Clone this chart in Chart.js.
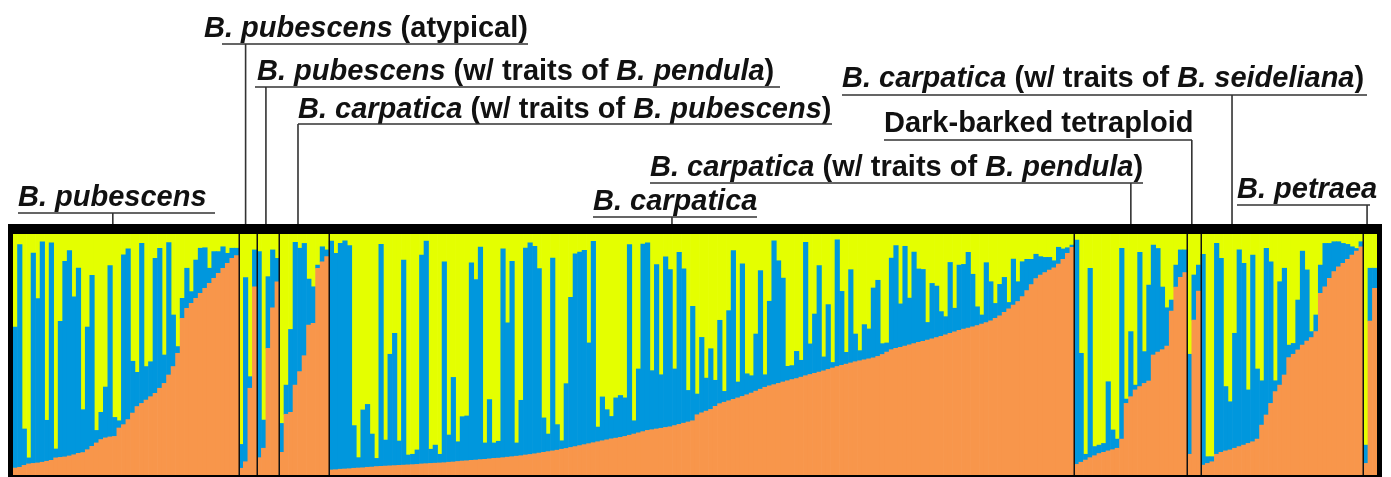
<!DOCTYPE html>
<html>
<head>
<meta charset="utf-8">
<script src="https://cdn.jsdelivr.net/npm/chart.js@4/dist/chart.umd.min.js"></script>
<style>
  html, body { margin: 0; padding: 0; background: #fff; }
</style>
</head>
<body>
<canvas id="myChart" width="1391" height="477"></canvas>
<script>
// groups, left to right
const groupNames = ['B. pubescens', 'B. pubescens (atypical)', 'B. pubescens (w/ traits of B. pendula)',
  'B. carpatica (w/ traits of B. pubescens)', 'B. carpatica', 'B. carpatica (w/ traits of B. pendula)',
  'Dark-barked tetraploid', 'B. carpatica (w/ traits of B. seideliana)', 'B. petraea']

// per individual: orange share (%) and orange+blue share (%), rest is yellow
const pubOrange = [2.9,3.2,4.0,4.6,4.8,5.0,5.3,5.7,6.1,7.1, 7.3,7.5,7.9,8.4,9.0,9.3,10.5,11.9,13.3,14.7,
  15.4,15.8,16.0,19.5,20.9,23.0,25.7,28.4,29.7,31.1, 32.5,33.9,36.0,38.0,41.5,45.0,50.5,65.0,69.2,71.2,
  73.3,75.4,77.5,79.5,81.6,83.7,85.8,87.8,89.9,91.0]
const pubTop = [61.4,95.6,19.1,7.1,92.1,73.2,96.7,22.7,96.3,10.8, 63.8,88.7,93.1,73.9,85.9,27.1,61.4,82.8,18.5,26.0,
  36.5,86.9,23.9,22.5,91.4,93.8,47.2,42.6,96.1,45.0, 47.0,89.9,94.1,49.8,96.4,66.4,53.3,73.3,85.8,76.1,
  89.2,94.1,94.3,85.8,92.7,92.7,94.7,92.0,94.1,94.1]

const atyOrange = [2.8,5.5,36.0,78.1]
const atyTop = [12.7,81.9,40.8,93.4]

const penOrange = [7.2,11.1,52.6,69.4,80.2]
const penTop = [92.7,22.8,82.3,93.4,89.9]

const carPubOrange = [9.4,25.2,26.0,37.3,42.9,49.5,62.2,62.9,85.8,88.5,90.6]
const carPubTop = [21.4,37.3,60.4,96.5,94.1,96.1,81.3,78.1,87.1,94.7,93.4]

const carOrange = [2.1,2.2,2.4,2.5,2.6,2.8,2.9,3.0,3.2,3.3,
  3.5,3.6,3.7,3.8,3.9,4.0,4.1,4.2,4.3,4.4,
  4.6,4.7,4.8,4.9,5.0,5.1,5.3,5.4,5.6,5.8,5.9,6.1,
  6.2,6.4,6.5,6.7,6.9,7.0,7.2,7.4,7.6,
  7.8,8.0,8.3,8.5,8.8,9.1,9.4,9.7,10.0,10.3,
  10.7,11.0,11.4,11.8,12.2,12.6,13.0,13.4,13.8,14.2,
  14.6,15.0,15.3,15.6,16.0,16.5,17.0,17.5,18.0,18.5,
  18.8,19.1,19.4,19.7,20.0,20.5,21.0,21.5,22.0,22.5,
  25.0,25.8,26.5,27.2,28.5,29.6,30.2,30.8,31.4,32.0,
  32.6,33.3,34.0,34.8,35.6,36.4,37.0,37.5,38.0,38.6,
  39.1,39.6,40.0,40.6,41.2,41.7,42.2,42.7,43.2,43.8,
  44.4,45.0,45.5,46.0,46.5,47.0,47.4,47.8,48.2,48.6,
  49.2,50.0,51.0,52.0,52.6,53.0,53.5,54.0,54.5,55.0,
  55.5,56.0,56.5,57.0,57.5,58.2,58.8,59.4,60.0,60.5,
  61.0,61.5,62.0,62.6,63.2,64.0,65.0,66.0,67.5,69.0,
  70.5,72.0,74.0,76.5,79.0,81.5,83.0,84.0,85.0,86.0,
  87.5,89.5,92.0,94.5]
const carTop = [97.1,92.0,96.1,97.2,95.2,20.5,7.2,27.0,29.3,17.0,
  6.9,95.7,14.5,50.1,58.8,14.1,89.2,8.3,8.6,10.4,
  91.3,97.1,10.7,12.4,8.6,88.5,16.6,40.5,13.8,24.2,24.5,
  88.0,81.1,94.6,13.3,31.3,13.3,14.0,93.8,63.1,88.7,
  13.3,31.0,94.2,96.3,94.9,85.6,23.7,17.0,90.0,20.9,
  14.2,37.9,73.7,91.8,92.5,93.2,54.8,97.0,19.9,32.4,
  27.1,24.3,32.0,33.0,
  32.0,95.6,22.5,44.0,95.8,96.3,43.3,87.3,41.6,90.5,
  85.2,44.0,92.4,85.5,35.1,70.0,33.6,57.1,40.2,52.4,
  39.3,64.2,34.7,68.2,93.1,38.6,87.6,42.0,41.2,58.5,
  84.8,41.6,72.1,
  97.2,88.9,81.7,45.1,45.4,51.3,47.6,96.5,54.4,66.8,
  86.9,49.0,70.7,46.7,97.6,76.2,50.9,85.2,58.5,51.6,
  62.4,60.6,77.6,80.8,54.5,54.8,90.0,95.2,71.0,94.9,
  73.4,92.5,85.5,
  85.3,63.3,79.5,78.4,67.8,65.7,88.2,69.2,87.1,87.4,
  92.4,83.3,69.8,66.4,88.1,80.2,71.2,79.1,82.0,71.6,
  89.6,80.2,88.5,89.5,89.5,91.6,90.6,90.3,90.3,88.9,
  94.5,93.8,94.3,95.4]

const carPenOrange = [4.4,5.3,6.2,7.2,8.0,8.9,9.4,10.0,10.5,11.1,14.9,29.7,32.5,35.3,36.7,38.0,39.0,49.8,51.0,52.0,53.5,68.0,78.0,82.0,84.0]
const carPenTop = [97.5,50.5,8.6,85.8,11.8,12.4,13.1,38.7,18.7,14.9,94.1,31.5,59.5,37.3,92.4,51.2,78.8,95.4,94.0,78.0,69.4,72.6,87.1,93.4,93.4]

const darkOrange = [8.6,64.3,76.3]
const darkTop = [50.1,83.0,87.1]

const seiOrange = [4.1,4.8,5.5,8.6,9.4,10.0,10.4,11.1,11.8,12.4, 13.1,13.8,14.9,20.7,24.9,29.7,34.6,37.3,41.5,48.7,
  50.1,51.9,53.9,55.6,57.0,59.5,75.4,78.1,81.6,84.4, 86.4,87.8,89.5,91.3,92.9,94.7]
const seiTop = [91.6,7.6,7.6,96.1,89.9,36.7,30.4,58.8,93.4,87.8, 35.3,91.3,44.0,39.1,94.1,88.5,39.1,80.2,85.8,53.9,
  54.6,72.6,92.9,85.1,59.5,66.4,87.1,96.1,96.1,96.8, 96.8,96.1,95.7,94.7,94.0,96.8]

const petOrange = [4.8,63.9,77.5]
const petTop = [12.4,85.8,85.8]

const orangeByGroup = [pubOrange, atyOrange, penOrange, carPubOrange, carOrange, carPenOrange, darkOrange, seiOrange, petOrange]
const topByGroup = [pubTop, atyTop, penTop, carPubTop, carTop, carPenTop, darkTop, seiTop, petTop]

// labels above the plot: text pieces [text, italic], baseline, underline, anchor (individual index)
const notes = [
  { parts: [['B. pubescens', 1]], x: 18, y: 206, ux: [18, 215], uy: 213, at: 21.6 },
  { parts: [['B. pubescens', 1], [' (atypical)', 0]], x: 204, y: 37, ux: [222, 528], uy: 44, at: 51.0 },
  { parts: [['B. pubescens', 1], [' (w/ traits of ', 0], ['B. pendula', 1], [')', 0]], x: 257, y: 80, ux: [255, 780], uy: 87, at: 55.5 },
  { parts: [['B. carpatica', 1], [' (w/ traits of ', 0], ['B. pubescens', 1], [')', 0]], x: 298, y: 118, ux: [298, 832], uy: 124, at: 62.6 },
  { parts: [['B. carpatica', 1], [' (w/ traits of ', 0], ['B. seideliana', 1], [')', 0]], x: 842, y: 87, ux: [842, 1367], uy: 95, at: 269.4 },
  { parts: [['Dark-barked tetraploid', 0]], x: 884, y: 132, ux: [884, 1192], uy: 140, at: 260.5 },
  { parts: [['B. carpatica', 1], [' (w/ traits of ', 0], ['B. pendula', 1], [')', 0]], x: 650, y: 176, ux: [650, 1143], uy: 183, at: 247.0 },
  { parts: [['B. carpatica', 1]], x: 593, y: 210, ux: [593, 757], uy: 217, at: 145.4 },
  { parts: [['B. petraea', 1]], x: 1237, y: 198, ux: [1237, 1370], uy: 205, at: 299.3 }
]

let labels = [], orange = [], blue = [], yellow = [], bounds = []
orangeByGroup.forEach((grp, g) => {
  grp.forEach((o, n) => {
    let top = topByGroup[g][n]
    labels.push(groupNames[g] + ' ' + (n + 1))
    orange.push(o)
    blue.push(Math.max(0, top - o))
    yellow.push(100 - Math.max(top, o))
  })
  bounds.push(labels.length)
})
bounds.pop()

const frame = {
  id: 'frame',
  afterDraw(chart) {
    const c = chart.ctx, a = chart.chartArea, xs = chart.scales.x
    c.save()
    // group separators
    c.strokeStyle = '#111'
    c.lineWidth = 1.5
    bounds.forEach(b => {
      let x = Math.round(xs.getPixelForValue(b - 0.5)) + 0.25
      c.beginPath(); c.moveTo(x, a.top); c.lineTo(x, a.bottom); c.stroke()
    })
    // box
    c.fillStyle = '#000'
    c.fillRect(a.left - 5, a.top - 10, 5, a.bottom - a.top + 13)
    c.fillRect(a.left - 5, a.top - 10, a.right - a.left + 10, 10)
    c.fillRect(a.right, a.top - 10, 5, a.bottom - a.top + 13)
    c.fillRect(a.left - 5, a.bottom, a.right - a.left + 10, 3)
    // labels
    c.fillStyle = '#111'
    c.strokeStyle = '#333'
    c.lineWidth = 1.6
    c.textBaseline = 'alphabetic'
    notes.forEach(n => {
      let x = n.x
      n.parts.forEach(([t, it]) => {
        c.font = (it ? 'italic ' : '') + 'bold 29px "Liberation Sans", Arial, sans-serif'
        c.fillText(t, x, n.y)
        x += c.measureText(t).width
      })
      let lx = xs.getPixelForValue(n.at)
      c.beginPath()
      c.moveTo(n.ux[0], n.uy); c.lineTo(n.ux[1], n.uy)
      c.moveTo(lx, n.uy); c.lineTo(lx, a.top - 10)
      c.stroke()
    })
    c.restore()
  }
}

let ctx = document.getElementById('myChart')
let myChart = new Chart(ctx, {
  type: 'bar',
  data: {
    labels: labels,
    datasets: [
      { label: 'K1', data: orange, backgroundColor: '#F8964B' },
      { label: 'K2', data: blue, backgroundColor: '#0097DD' },
      { label: 'K3', data: yellow, backgroundColor: '#E4FF00' }
    ]
  },
  options: {
    responsive: false,
    animation: false,
    devicePixelRatio: 1,
    layout: { padding: { left: 13, right: 14, top: 234, bottom: 2 } },
    datasets: { bar: { barPercentage: 1, categoryPercentage: 1, borderWidth: 0 } },
    scales: {
      x: { stacked: true, display: false },
      y: { stacked: true, display: false, min: 0, max: 100 }
    },
    plugins: { legend: { display: false }, tooltip: { enabled: false } }
  },
  plugins: [frame]
})
</script>
</body>
</html>
